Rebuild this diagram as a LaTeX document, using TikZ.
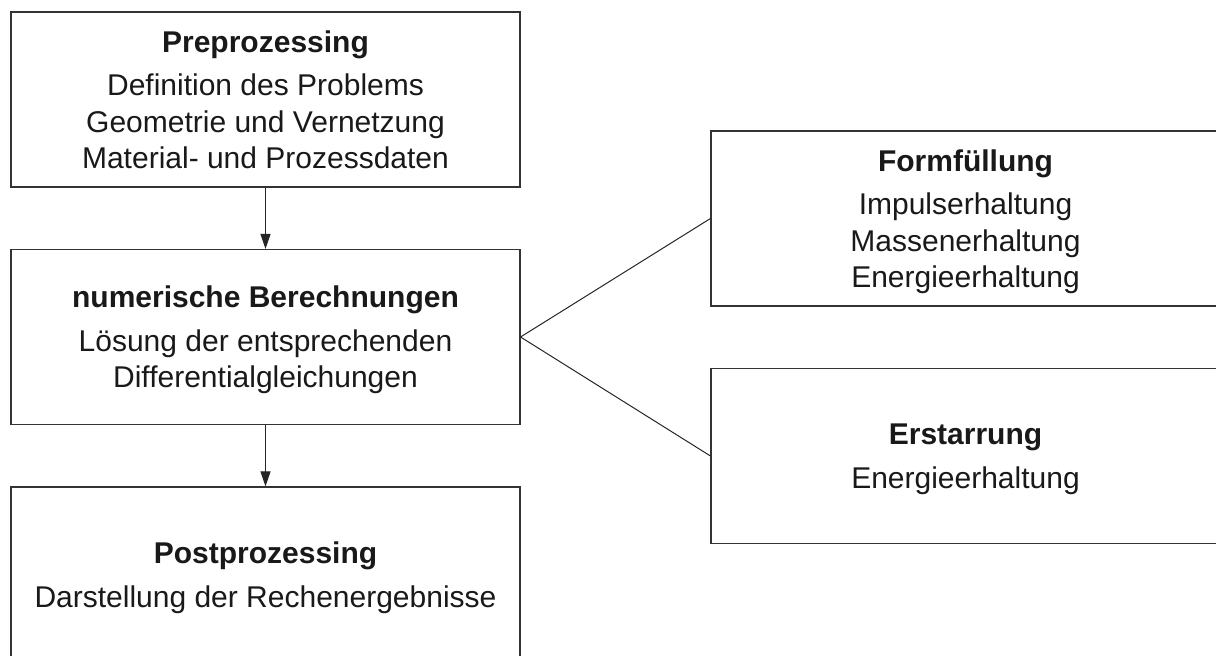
\documentclass[tikz,border=0pt]{standalone}
\usepackage{fontspec}
\setmainfont{Liberation Sans}
\usepackage{tikz}
\usetikzlibrary{arrows.meta}
\usetikzlibrary{positioning}
\tikzset{
stage/.style = {draw=black!80, line width=0.55pt, align=center,
                minimum width=254.5pt, minimum height=87.5pt,
                inner sep=0pt, text=black!90, text depth=0pt,
                font=\fontsize{15}{18.25}\selectfont},
flowline/.style = {draw=black!85, line width=0.5pt,
                   -{Triangle[length=7.5pt, width=5pt]}},
linkline/.style = {draw=black!85, line width=0.5pt}
}
\newcommand{\head}[1]{\textbf{#1}\\[3.6pt]}
\newcommand{\flow}[2]{\draw[flowline] (#1) -- (#2);}
\newcommand{\link}[2]{\draw[linkline] (#1) -- (#2);}

\begin{document}
\begin{tikzpicture}[x=1pt, y=1pt]
    \useasboundingbox (0,0) rectangle (608,-328);

    \node[stage] (pre) at (132.75,-49.75)
        {\head{Preprozessing}Definition des Problems\\Geometrie und Vernetzung\\Material- und Prozessdaten};
    \node[stage] (num) at (132.75,-168.5)
        {\head{numerische Berechnungen}Lösung der entsprechenden\\Differentialgleichungen};
    \node[stage] (post) at (132.75,-287.25)
        {\head{Postprozessing}Darstellung der Rechenergebnisse};
    \node[stage] (fill) at (482.75,-109.25)
        {\head{Formfüllung}Impulserhaltung\\Massenerhaltung\\Energieerhaltung};
    \node[stage] (solid) at (482.75,-228)
        {\head{Erstarrung}Energieerhaltung};

    \flow{pre.south}{num.north};
    \flow{num.south}{post.north};
    \link{num.east}{fill.west};
    \link{num.east}{solid.west};
\end{tikzpicture}
\end{document}
